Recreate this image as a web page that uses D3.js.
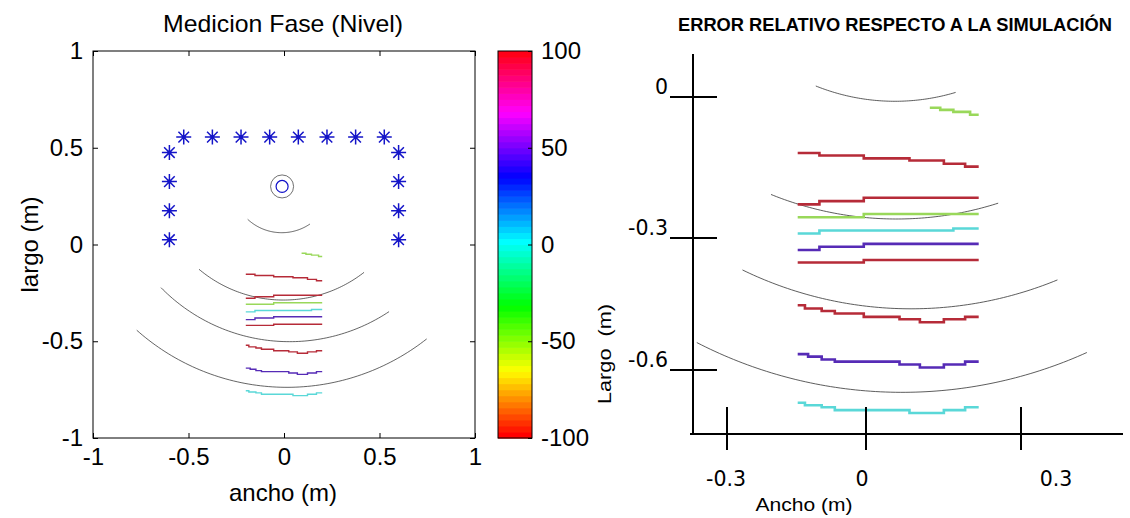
<!DOCTYPE html>
<html><head><meta charset="utf-8">
<script src="https://cdn.jsdelivr.net/npm/d3@7"></script>
<style>body{margin:0;background:#fff}svg{display:block}</style>
</head><body>
<svg id="c" width="1130" height="518"></svg>
<script>
// ---------------- data ----------------
const leftTitle = "Medicion Fase (Nivel)";
const leftXLabel = "ancho (m)";
const leftYLabel = "largo (m)";
const rightTitle = "ERROR RELATIVO RESPECTO A LA SIMULACIÓN";
const rightXLabel = "Ancho (m)";
const rightYLabel = "Largo  (m)";

const axisTicks = [-1, -0.5, 0, 0.5, 1];
const colorbarTicks = [-100, -50, 0, 50, 100];
const zoomTicksX = [-0.3, 0, 0.3];
const zoomTicksY = [0, -0.3, -0.6];

// sensor (microphone) positions, metres
const sensorX = [-0.525, -0.375, -0.225, -0.075, 0.075, 0.225, 0.375, 0.525,
                 -0.6, -0.6, -0.6, -0.6, 0.6, 0.6, 0.6, 0.6];
const sensorY = [0.555, 0.555, 0.555, 0.555, 0.555, 0.555, 0.555, 0.555,
                 0.475, 0.325, 0.175, 0.025, 0.475, 0.325, 0.175, 0.025];
const sourceX = -0.01;
const sourceY = 0.30;

// measured iso-phase contours: level (colour value) and stepped x/y points
const contourLevels = [-50, 100, 100, -50, 0, 45, 100, 100, 45, 0];
const contourX = [
  [0.092, 0.115, 0.144, 0.181, 0.2],
  [-0.2, -0.152, -0.054, 0.047, 0.123, 0.170, 0.2],
  [-0.2, -0.152, -0.054, 0.2],
  [-0.2, -0.054, 0.2],
  [-0.2, -0.152, 0.144, 0.2],
  [-0.2, -0.152, -0.054, 0.2],
  [-0.2, -0.054, 0.2],
  [-0.2, -0.184, -0.147, -0.118, -0.054, 0.025, 0.070, 0.123, 0.170, 0.2],
  [-0.2, -0.177, -0.147, -0.118, 0.025, 0.070, 0.123, 0.170, 0.2],
  [-0.2, -0.184, -0.147, -0.118, 0.047, 0.123, 0.170, 0.2]
];
const contourY = [
  [-0.045, -0.050, -0.055, -0.062, -0.062],
  [-0.154, -0.160, -0.167, -0.172, -0.180, -0.187, -0.187],
  [-0.278, -0.270, -0.262, -0.262],
  [-0.309, -0.301, -0.301],
  [-0.348, -0.341, -0.336, -0.336],
  [-0.388, -0.380, -0.373, -0.373],
  [-0.418, -0.412, -0.412],
  [-0.521, -0.529, -0.535, -0.541, -0.549, -0.555, -0.562, -0.555, -0.549, -0.549],
  [-0.639, -0.645, -0.652, -0.657, -0.664, -0.671, -0.664, -0.657, -0.657],
  [-0.756, -0.762, -0.767, -0.774, -0.781, -0.774, -0.767, -0.767]
];

// simulated contours (black arcs): left end, lowest point, right end
const arcsLeft = [
  [-0.19, 0.13, -0.012, 0.061, 0.136, 0.106],
  [-0.445, -0.128, 0.005, -0.287, 0.419, -0.144],
  [-0.644, -0.223, 0.047, -0.502, 0.55, -0.347],
  [-0.771, -0.443, 0.031, -0.738, 0.747, -0.488]
];
const arcsRight = [
  [-0.160, 0.0075, -0.003, -0.029, 0.149, -0.008],
  [-0.259, -0.254, 0.004, -0.313, 0.243, -0.275],
  [-0.322, -0.436, 0.019, -0.529, 0.374, -0.460],
  [-0.423, -0.611, 0.033, -0.731, 0.439, -0.635]
];

// ---------------- helpers ----------------
const svg = d3.select("#c");
const SANS = "'Liberation Sans', Arial, Helvetica, sans-serif";
const DEJA = "'DejaVu Sans', Verdana, sans-serif";

const cmapN = 64;
const hueOf = v => Math.min(cmapN - 1, Math.floor((v + 100) / 200 * cmapN)) / cmapN * 360;
function lineColor(v) {
  const h = hueOf(v);
  const light = (h > 50 && h < 210) ? 0.6 : 0.44;
  return d3.hsl(h, 0.62, light).formatHex();
}

function arcPath(a, xs, ys) {
  const ax = xs(a[0]), ay = ys(a[1]), bx = xs(a[2]), by = ys(a[3]), cx = xs(a[4]), cy = ys(a[5]);
  const d = 2 * (ax * (by - cy) + bx * (cy - ay) + cx * (ay - by));
  const ux = ((ax*ax + ay*ay) * (by - cy) + (bx*bx + by*by) * (cy - ay) + (cx*cx + cy*cy) * (ay - by)) / d;
  const uy = ((ax*ax + ay*ay) * (cx - bx) + (bx*bx + by*by) * (ax - cx) + (cx*cx + cy*cy) * (bx - ax)) / d;
  const R = Math.hypot(ax - ux, ay - uy);
  const a1 = Math.atan2(ay - uy, ax - ux), a3 = Math.atan2(cy - uy, cx - ux);
  const pts = d3.range(0, 81).map(i => {
    const t = a1 + (a3 - a1) * i / 80;
    return [ux + R * Math.cos(t), uy + R * Math.sin(t)];
  });
  return d3.line()(pts);
}

function drawContours(g, xs, ys, width) {
  const line = d3.line().x(d => xs(d[0])).y(d => ys(d[1])).curve(d3.curveStepAfter);
  contourLevels.forEach((lev, i) => {
    const pts = contourX[i].map((x, j) => [x, contourY[i][j]]);
    g.append("path").attr("d", line(pts)).attr("fill", "none")
      .attr("stroke", lineColor(lev)).attr("stroke-width", width);
  });
}

// ---------------- left panel ----------------
const xL = d3.scaleLinear().domain([-1, 1]).range([93, 475]);
const yL = d3.scaleLinear().domain([-1, 1]).range([438, 51]);
const gL = svg.append("g");

gL.append("rect").attr("x", xL(-1)).attr("y", yL(1))
  .attr("width", xL(1) - xL(-1)).attr("height", yL(-1) - yL(1))
  .attr("fill", "#fff").attr("stroke", "#000").attr("stroke-width", 1);

const fmt = d => String(d);
function styleAxis(sel, showText) {
  sel.select(".domain").remove();
  sel.selectAll(".tick line").attr("stroke", "#000");
  sel.selectAll(".tick text").attr("font-family", SANS).attr("font-size", 24).attr("fill", "#000");
  if (!showText) sel.selectAll(".tick text").remove();
}
gL.append("g").attr("transform", `translate(0,${yL(-1)})`)
  .call(d3.axisBottom(xL).tickValues(axisTicks).tickFormat(fmt).tickSize(-5).tickPadding(10))
  .call(s => styleAxis(s, true));
gL.append("g").attr("transform", `translate(0,${yL(1)})`)
  .call(d3.axisTop(xL).tickValues(axisTicks).tickSize(-5))
  .call(s => styleAxis(s, false));
gL.append("g").attr("transform", `translate(${xL(-1)},0)`)
  .call(d3.axisLeft(yL).tickValues(axisTicks).tickFormat(fmt).tickSize(-5).tickPadding(10))
  .call(s => styleAxis(s, true));
gL.append("g").attr("transform", `translate(${xL(1)},0)`)
  .call(d3.axisRight(yL).tickValues(axisTicks).tickSize(-5))
  .call(s => styleAxis(s, false));

// arcs
arcsLeft.forEach(a => gL.append("path").attr("d", arcPath(a, xL, yL))
  .attr("fill", "none").attr("stroke", "#222").attr("stroke-width", 0.7));

drawContours(gL, xL, yL, 1.4);

// source
gL.append("circle").attr("cx", xL(sourceX)).attr("cy", yL(sourceY)).attr("r", 11.5)
  .attr("fill", "none").attr("stroke", "#333").attr("stroke-width", 0.7);
gL.append("circle").attr("cx", xL(sourceX)).attr("cy", yL(sourceY)).attr("r", 6)
  .attr("fill", "none").attr("stroke", "#1010c8").attr("stroke-width", 1.2);

// sensors (asterisk markers)
const star = "M-7.5,0H7.5M0,-7.5V7.5M-5.3,-5.3L5.3,5.3M-5.3,5.3L5.3,-5.3";
sensorX.forEach((x, i) => {
  const g = gL.append("g").attr("transform", `translate(${xL(x)},${yL(sensorY[i])})`);
  g.append("path").attr("d", star).attr("stroke", "#1414c8").attr("stroke-width", 1.5).attr("fill", "none");
  g.append("circle").attr("r", 2).attr("fill", "#1414c8");
});

// labels
gL.append("text").attr("x", (xL(-1) + xL(1)) / 2 - 1).attr("y", 32)
  .attr("text-anchor", "middle").attr("font-family", SANS).attr("font-size", 24)
  .attr("textLength", 240).attr("lengthAdjust", "spacingAndGlyphs").text(leftTitle);
gL.append("text").attr("x", (xL(-1) + xL(1)) / 2 - 1).attr("y", 501)
  .attr("text-anchor", "middle").attr("font-family", SANS).attr("font-size", 24).text(leftXLabel);
gL.append("text").attr("transform", `translate(38,${(yL(-1) + yL(1)) / 2}) rotate(-90)`)
  .attr("text-anchor", "middle").attr("font-family", SANS).attr("font-size", 24).text(leftYLabel);

// ---------------- colorbar ----------------
const cb = d3.scaleLinear().domain([-100, 100]).range([438, 51]);
const cbX0 = 498, cbX1 = 532;
const gC = svg.append("g");
d3.range(cmapN).forEach(i => {
  const v0 = -100 + 200 * i / cmapN, v1 = -100 + 200 * (i + 1) / cmapN;
  gC.append("rect").attr("x", cbX0).attr("y", cb(v1)).attr("width", cbX1 - cbX0)
    .attr("height", cb(v0) - cb(v1) + 0.6).attr("fill", d3.hsl(i / cmapN * 360, 1, 0.5).formatHex());
});
gC.append("rect").attr("x", cbX0).attr("y", cb(100)).attr("width", cbX1 - cbX0)
  .attr("height", cb(-100) - cb(100)).attr("fill", "none").attr("stroke", "#000").attr("stroke-width", 1);
gC.append("g").attr("transform", `translate(${cbX1},0)`)
  .call(d3.axisRight(cb).tickValues(colorbarTicks).tickFormat(fmt).tickSize(-4).tickPadding(9))
  .call(s => styleAxis(s, true));

// ---------------- right panel ----------------
const gR = svg.append("g");
// content scales (zoomed view of the measurement area)
const xR = d3.scaleLinear().domain([-0.2, 0.2]).range([797.7, 978.7]);
const yR = d3.scaleLinear().domain([0, -0.756]).range([89.1, 402.7]);
// hand-drawn axis scales
const xTick = d3.scaleLinear().domain([-0.3, 0, 0.3]).range([727, 866, 1021]);
const xTickLabel = d3.scaleLinear().domain([-0.3, 0, 0.3]).range([726, 862, 1056]);
const yTick = d3.scaleLinear().domain([0, -0.3, -0.6]).range([97, 238, 370]);

arcsRight.forEach(a => gR.append("path").attr("d", arcPath(a, xR, yR))
  .attr("fill", "none").attr("stroke", "#333").attr("stroke-width", 0.8));
drawContours(gR, xR, yR, 2.6);

const axisX = 693, axisY = 434;
gR.append("line").attr("x1", axisX).attr("x2", axisX).attr("y1", 54).attr("y2", axisY + 1)
  .attr("stroke", "#000").attr("stroke-width", 2);
gR.append("line").attr("x1", axisX - 3).attr("x2", 1123).attr("y1", axisY).attr("y2", axisY)
  .attr("stroke", "#000").attr("stroke-width", 2);
zoomTicksY.forEach(v => {
  gR.append("line").attr("x1", axisX - 23).attr("x2", axisX + 24).attr("y1", yTick(v)).attr("y2", yTick(v))
    .attr("stroke", "#000").attr("stroke-width", 2);
  gR.append("text").attr("x", 668).attr("y", yTick(v) - 3).attr("text-anchor", "end")
    .attr("font-family", DEJA).attr("font-size", 20.5).text(String(v));
});
zoomTicksX.forEach(v => {
  gR.append("line").attr("x1", xTick(v)).attr("x2", xTick(v)).attr("y1", axisY - 27).attr("y2", axisY + 16)
    .attr("stroke", "#000").attr("stroke-width", 2);
  gR.append("text").attr("x", xTickLabel(v)).attr("y", 486).attr("text-anchor", "middle")
    .attr("font-family", DEJA).attr("font-size", 20.5).text(String(v));
});

gR.append("text").attr("x", 895).attr("y", 31).attr("text-anchor", "middle")
  .attr("font-family", SANS).attr("font-weight", "bold").attr("font-size", 18)
  .attr("textLength", 434).attr("lengthAdjust", "spacingAndGlyphs").text(rightTitle);
gR.append("text").attr("x", 804).attr("y", 511).attr("text-anchor", "middle")
  .attr("font-family", SANS).attr("font-size", 18.5)
  .attr("textLength", 97).attr("lengthAdjust", "spacingAndGlyphs").text(rightXLabel);
gR.append("text").attr("transform", "translate(611,354) rotate(-90)").attr("text-anchor", "middle")
  .attr("font-family", SANS).attr("font-size", 18.5).style("white-space", "pre")
  .attr("textLength", 100).attr("lengthAdjust", "spacingAndGlyphs").text(rightYLabel);
</script>
</body></html>
